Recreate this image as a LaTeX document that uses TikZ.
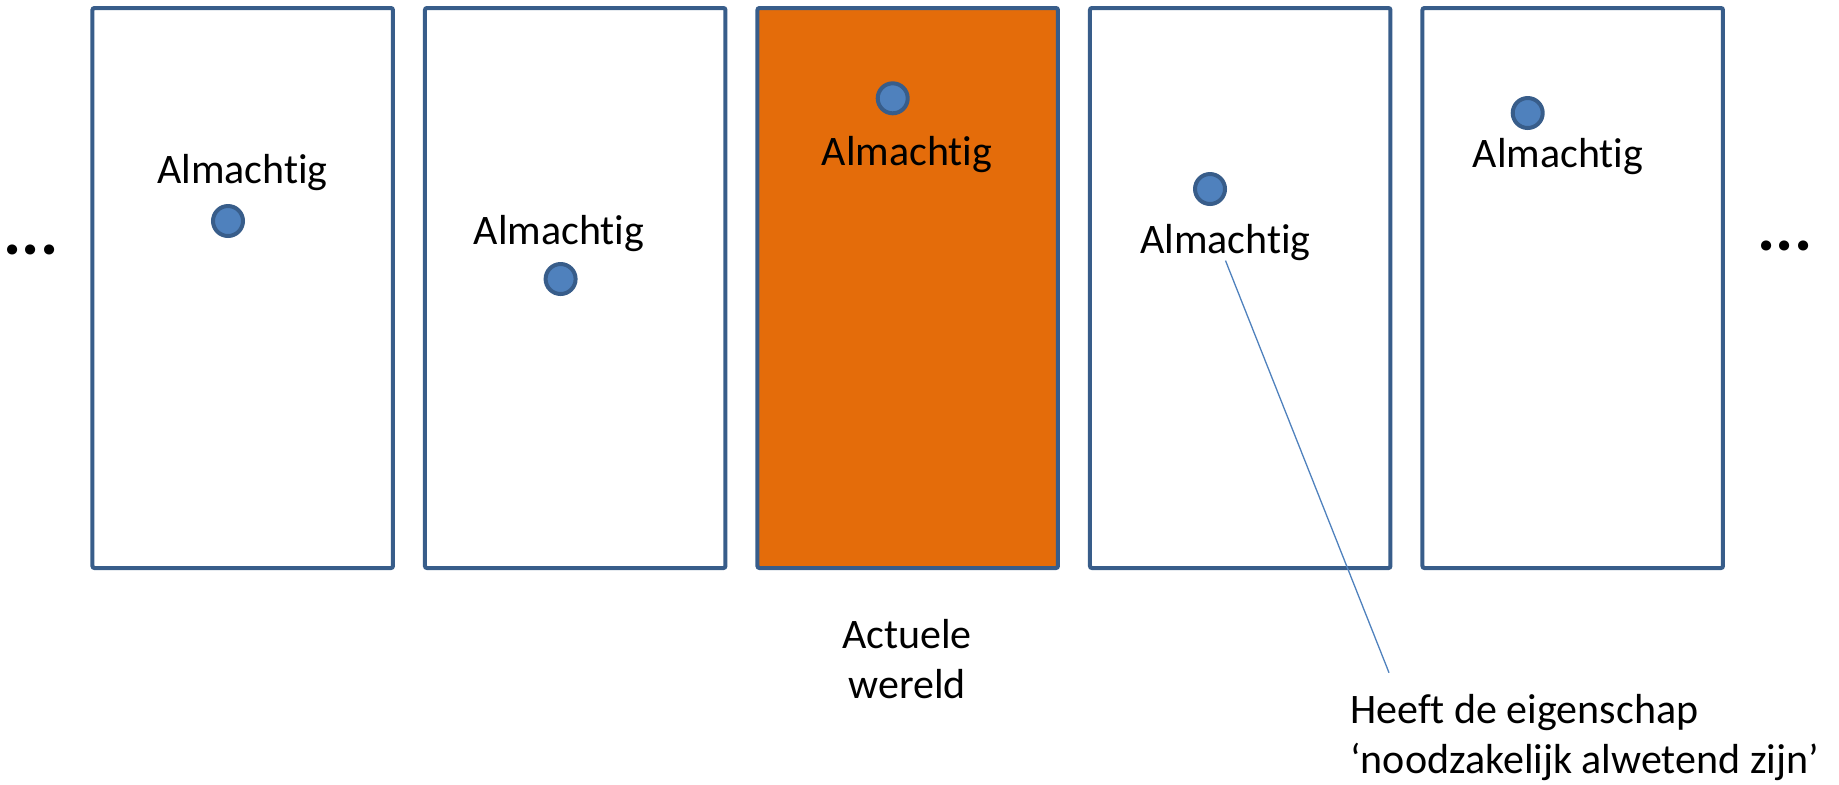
\documentclass[tikz,border=0pt]{standalone}
\usepackage{fontspec}
\setmainfont{Carlito}[Ligatures={NoCommon}]
\usetikzlibrary{positioning}
\usetikzlibrary{calc}
\definecolor{rand}{HTML}{385D8A}
\definecolor{puntblauw}{HTML}{4F81BD}
\definecolor{oranje}{HTML}{E46C0A}

\begin{document}
\begin{tikzpicture}[x=0.5pt,y=-0.5pt,
    wereld/.style={draw=rand, line width=2pt, rounded corners=1pt,
      minimum width=150.25pt, minimum height=280pt, inner sep=0pt},
    stip/.style={circle, draw=rand, fill=puntblauw, line width=2pt,
      minimum size=15pt, inner sep=0pt},
    tekst/.style={font=\fontsize{21}{25}\selectfont, inner sep=0pt},
    puntjes/.style={font=\fontsize{34}{34}\selectfont\bfseries, inner sep=0pt}]
        \useasboundingbox (0,0) rectangle (1839,784);

        % Define the worlds
        \foreach \i/\x in {1/242.7, 2/575.2, 4/1240.2, 5/1572.7}
        \node[wereld] (w\i) at (\x,288) {};
        \node[wereld, fill=oranje] (w3) at (907.7,288) {};

        % Draw the points and their labels
        \foreach \i/\px/\py/\tx/\ty in {1/228/221/242.5/183, 2/560.6/279/559/244,
            3/892.7/98.3/907/165, 4/1210/189/1225.5/253, 5/1527.7/113/1558/167}
        {
        \node[stip] (p\i) at (\px,\py) {};
        \node[tekst, anchor=base] (a\i) at (\tx,\ty) {Almachtig};
        }

        \node[puntjes, anchor=base] (links) at (31,254) {...};
        \node[puntjes, anchor=base] (rechts) at (1785,250) {...};

        \node[tekst, align=center, anchor=base] (actueel) at (907,698) {Actuele\\wereld};
        \node[tekst, align=left, anchor=base west] (eigenschap) at (1350,773)
            {Heeft de eigenschap\\‘noodzakelijk alwetend zijn’};

        % Draw the line
        \coordinate (eind) at (1389,672.7);
        \draw[puntblauw, line width=0.65pt] (a4.south) -- (eind);
     \end{tikzpicture}
\end{document}
